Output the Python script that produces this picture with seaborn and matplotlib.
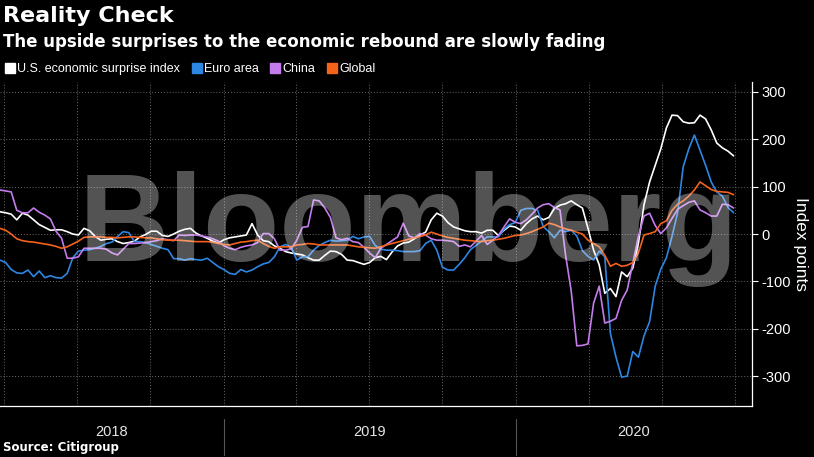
import numpy as np
import pandas as pd
import matplotlib
matplotlib.use("Agg")
import matplotlib.pyplot as plt
import matplotlib.dates as mdates
import matplotlib.ticker as mticker
from matplotlib.lines import Line2D
import seaborn as sns

# weekly readings, first week starts 2018-03-27
start_date = "2018-03-27"
n_weeks = 132

us = [47, 45, 42, 30, 44, 40, 30, 20, 14, 8, 9, 9, 5, 0, -2, 12, 7, -5, -13, -11,
      -10, -16, -20, -18, -15, -6, -1, 6, 6, -3, -5, 0, 6, 10, 12, 2, -4, -9, -15, -19,
      -12, -8, -6, -4, -2, 22, -2, -14, -16, -25, -30, -37, -40, -42, -44, -50, -55, -55, -45, -36,
      -37, -43, -55, -56, -60, -64, -60, -50, -47, -54, -38, -25, -19, -17, -10, -2, 4, 30, 44, 38,
      24, 15, 11, 7, 5, 5, 2, 8, 8, -3, 8, 17, 15, 8, 22, 32, 38, 30, 35, 54,
      61, 64, 70, 62, 55, 12, -34, -65, -125, -115, -132, -80, -90, -72, -20, 62, 110, 145, 180, 224,
      251, 250, 237, 234, 235, 251, 243, 220, 192, 182, 175, 165]

euro = [-55, -60, -75, -82, -83, -76, -90, -78, -92, -88, -92, -93, -83, -50, -36, -34, -33, -30, -26, -20,
        -17, -5, 5, 3, -16, -16, -18, -22, -26, -30, -33, -52, -52, -55, -52, -54, -55, -51, -60, -69,
        -75, -83, -85, -75, -80, -76, -69, -63, -60, -48, -27, -22, -28, -55, -48, -48, -34, -24, -18, -13,
        -15, -14, -13, -5, -10, -6, -5, -24, -32, -34, -34, -35, -37, -37, -37, -35, -20, -13, -34, -70,
        -76, -76, -64, -50, -33, -24, -15, -6, -6, -6, 10, 20, 24, 50, 54, 54, 50, 16, 5, -8,
        8, 5, 8, -4, -35, -47, -55, -36, -48, -210, -260, -302, -300, -248, -260, -215, -185, -110, -74, -50,
        -5, 45, 142, 180, 209, 177, 145, 110, 89, 80, 56, 45]

china = [93, 91, 89, 50, 45, 45, 55, 46, 40, 32, 6, -9, -51, -51, -48, -30, -30, -30, -30, -32,
         -40, -44, -32, -20, -20, -19, -18, -16, -14, -10, -12, -14, -2, -3, -2, -2, -4, -6, -10, -15,
         -25, -30, -33, -28, -25, -23, -18, 1, 1, -10, -34, -34, -31, -13, 14, 16, 72, 70, 55, 35,
         -8, -12, -9, -16, -18, -28, -40, -50, -30, -22, -14, -6, 23, -4, -8, 1, -2, -10, -13, -13,
         -14, -16, -26, -23, -27, -15, -3, -22, -13, -3, 15, 32, 25, 22, 30, 42, 55, 62, 64, 56,
         51, -45, -120, -236, -235, -232, -146, -110, -188, -184, -178, -140, -118, -62, -5, 38, 44, 18, 1, 13,
         33, 52, 60, 67, 70, 51, 45, 38, 38, 63, 62, 55]

global_idx = [12, 8, 0, -10, -14, -16, -17, -19, -21, -23, -26, -30, -27, -21, -15, -7, -6, -6, -6, -7,
              -7, -8, -7, -6, -6, -7, -8, -8, -10, -12, -13, -13, -13, -14, -15, -16, -16, -16, -17, -20,
              -22, -23, -20, -17, -16, -14, -13, -20, -26, -30, -27, -27, -27, -23, -22, -20, -21, -23, -23, -23,
              -23, -23, -23, -25, -27, -28, -29, -30, -27, -23, -20, -17, -14, -11, -8, -5, -2, 4, 0, -4,
              -7, -9, -11, -13, -14, -15, -16, -14, -13, -11, -9, -6, -3, -2, 1, 5, 10, 15, 23, 20,
              15, 11, 8, 4, 0, -13, -20, -27, -45, -68, -62, -68, -66, -60, -40, -2, 1, 5, 22, 28,
              50, 63, 70, 80, 93, 110, 102, 94, 90, 89, 88, 83]

series_names = ["U.S. economic surprise index", "Euro area", "China", "Global"]
colors = ["#ffffff", "#2d86e2", "#c47cec", "#f4621c"]
y_ticks = [300, 200, 100, 0, -100, -200, -300]
years = [2018, 2019, 2020]

sns.set_theme(style="white")
plt.rcParams["font.family"] = ["Liberation Sans", "DejaVu Sans"]
plt.rcParams["axes.unicode_minus"] = False

dates = pd.date_range(start_date, periods=n_weeks, freq="7D")
df = pd.concat([
    pd.DataFrame({"date": dates, "value": vals, "series": name})
    for name, vals in zip(series_names, [us, euro, china, global_idx])
])

fig = plt.figure(figsize=(8.14, 4.57), dpi=100, facecolor="black")
ax = fig.add_axes([0, 1 - 406 / 457, 752 / 814, (406 - 82) / 457])
ax.set_facecolor("black")

sns.lineplot(data=df, x="date", y="value", hue="series", hue_order=series_names,
             palette=colors, linewidth=1.2, legend=False, ax=ax, zorder=3)

ax.set_xlim(pd.Timestamp("2018-03-27"), pd.Timestamp("2020-10-22"))
ax.set_ylim(-363, 321)

# grid + ticks
ax.set_yticks(y_ticks)
ax.yaxis.tick_right()
ax.xaxis.set_major_locator(mdates.MonthLocator(bymonth=[1, 4, 7, 10]))
ax.xaxis.set_minor_locator(mdates.MonthLocator())
ax.xaxis.set_major_formatter(mticker.NullFormatter())
ax.grid(True, which="major", color="#6a6a6a", linestyle=(0, (1, 2)), linewidth=0.7)
ax.tick_params(axis="x", which="both", colors="#bbbbbb", length=4, width=0.8, direction="out")
ax.tick_params(axis="y", colors="white", length=4, width=0.8, labelsize=10.5, pad=3)
for side in ["top", "left"]:
    ax.spines[side].set_visible(False)
for side in ["bottom", "right"]:
    ax.spines[side].set_color("white")
    ax.spines[side].set_linewidth(0.9)

ax.set_xlabel("")
ax.yaxis.set_label_position("right")
ax.set_ylabel("Index points", rotation=-90, labelpad=12, color="white", fontsize=12.5)

# year labels below the axis
x0, x1 = ax.get_xlim()
trans = ax.get_xaxis_transform()
for yr in years:
    a = max(mdates.date2num(pd.Timestamp(f"{yr}-01-01")), x0)
    b = min(mdates.date2num(pd.Timestamp(f"{yr + 1}-01-01")), x1)
    ax.text((a + b) / 2, -0.08, str(yr), transform=trans, ha="center", va="center",
            color="#e6e6e6", fontsize=10.5)
    if yr > years[0]:
        ax.axvline(pd.Timestamp(f"{yr}-01-01"), ymin=-0.15, ymax=-0.04, clip_on=False,
                   color="#555555", linewidth=0.8)

# watermark
ax.text(0.543, 0.545, "Bloomberg", transform=ax.transAxes, ha="center", va="center",
        fontsize=90, fontweight="bold", color="white", alpha=0.33, zorder=5)

# legend
handles = [Line2D([0], [0], marker="s", linestyle="none", markersize=6.5,
                  markerfacecolor=c, markeredgecolor=c) for c in colors]
fig.legend(handles, series_names, loc="center left", bbox_to_anchor=(0.006, 1 - 69 / 457),
           ncol=4, frameon=False, handlelength=0.8, handletextpad=0.2, columnspacing=0.9,
           labelcolor="white", fontsize=9, borderaxespad=0, borderpad=0)

fig.text(0.004, 1 - 16 / 457, "Reality Check", fontsize=16, fontweight="bold", va="center",
         color="white", family=["DejaVu Sans"])
fig.text(0.004, 1 - 42 / 457, "The upside surprises to the economic rebound are slowly fading",
         fontsize=12, fontweight="bold", va="center", color="white", family=["DejaVu Sans"])
fig.text(0.004, 1 - 447 / 457, "Source: Citigroup", fontsize=8.5, fontweight="bold",
         va="center", color="white", family=["DejaVu Sans"])

fig.savefig("out.png", dpi=100, facecolor="black")
